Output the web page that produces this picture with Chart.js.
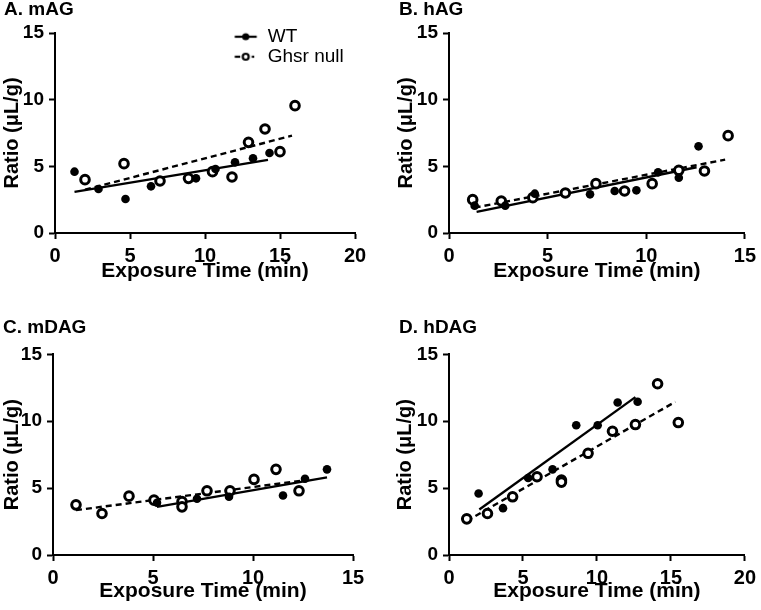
<!DOCTYPE html>
<html>
<head>
<meta charset="utf-8">
<script src="https://cdn.jsdelivr.net/npm/chart.js@4.4.1/dist/chart.umd.min.js"></script>
<style>
html,body{margin:0;padding:0;background:#fff;}
#wrap{position:relative;width:761px;height:610px;overflow:hidden;background:#fff;}
canvas{position:absolute;}
</style>
</head>
<body>
<div id="wrap">
<canvas id="cA" width="380" height="295" style="left:0;top:0"></canvas>
<canvas id="cB" width="381" height="295" style="left:380px;top:0"></canvas>
<canvas id="cC" width="380" height="310" style="left:0;top:300px"></canvas>
<canvas id="cD" width="381" height="310" style="left:380px;top:300px"></canvas>
</div>
<script>
// ---------- labels ----------
const seriesNames = ['WT', 'Ghsr null'];
const panelTitles = ['A. mAG', 'B. hAG', 'C. mDAG', 'D. hDAG'];
const xAxisTitle = 'Exposure Time (min)';
const yAxisTitle = 'Ratio (\u03bcL/g)';
const yTickValues = [0, 5, 10, 15];
const xTicks20 = [0, 5, 10, 15, 20];
const xTicks15 = [0, 5, 10, 15];

// ---------- A. mAG ----------
const wtA_x = [1.3, 2.9, 4.7, 6.4, 9.4, 10.7, 12.0, 13.2, 14.3];
const wtA_y = [4.6, 3.3, 2.55, 3.5, 4.1, 4.8, 5.3, 5.6, 6.0];
const ghA_x = [2.0, 4.6, 7.0, 8.9, 10.5, 11.8, 12.9, 14.0, 15.0, 16.0];
const ghA_y = [4.0, 5.2, 3.9, 4.1, 4.6, 4.2, 6.8, 7.8, 6.1, 9.55];
const wtFitA_x = [1.3, 14.2];
const wtFitA_y = [3.08, 5.48];
const ghFitA_x = [2.0, 15.8];
const ghFitA_y = [3.25, 7.3];

// ---------- B. hAG ----------
const wtB_x = [1.3, 2.85, 4.35, 7.15, 8.4, 9.5, 10.6, 11.65, 12.65];
const wtB_y = [2.05, 2.05, 2.95, 2.9, 3.15, 3.2, 4.55, 4.15, 6.5];
const ghB_x = [1.2, 2.65, 4.25, 5.9, 7.45, 8.9, 10.3, 11.65, 12.95, 14.15];
const ghB_y = [2.5, 2.4, 2.65, 3.0, 3.7, 3.15, 3.7, 4.7, 4.65, 7.3];
const wtFitB_x = [1.4, 12.55];
const wtFitB_y = [1.58, 4.93];
const ghFitB_x = [1.3, 14.0];
const ghFitB_y = [1.9, 5.5];

// ---------- C. mDAG ----------
const wtC_x = [5.2, 7.2, 8.8, 11.5, 12.6, 13.7];
const wtC_y = [3.9, 4.2, 4.35, 4.45, 5.7, 6.4];
const ghC_x = [1.15, 2.45, 3.8, 5.05, 6.45, 6.45, 7.7, 8.85, 10.05, 11.15, 12.3];
const ghC_y = [3.75, 3.1, 4.4, 4.1, 4.0, 3.6, 4.8, 4.8, 5.65, 6.4, 4.8];
const wtFitC_x = [5.2, 13.7];
const wtFitC_y = [3.6, 5.8];
const ghFitC_x = [1.15, 12.65];
const ghFitC_y = [3.35, 5.6];

// ---------- D. hDAG ----------
const wtD_x = [2.0, 3.65, 5.35, 7.0, 8.6, 10.05, 11.4, 12.75];
const wtD_y = [4.6, 3.5, 5.75, 6.4, 9.7, 9.7, 11.4, 11.45];
const ghD_x = [1.2, 2.6, 4.3, 5.95, 7.6, 7.6, 9.4, 11.05, 12.6, 14.1, 15.5];
const ghD_y = [2.7, 3.1, 4.35, 5.85, 5.6, 5.45, 7.6, 9.25, 9.75, 12.8, 9.9];
const wtFitD_x = [2.05, 12.6];
const wtFitD_y = [3.4, 11.8];
const ghFitD_x = [1.2, 15.3];
const ghFitD_y = [2.55, 11.45];

// ---------- helpers ----------
const FAMILY = "'Liberation Sans', Arial, Helvetica, sans-serif";
Chart.defaults.font.family = FAMILY;
Chart.defaults.color = '#000';

function pts(xs, ys) { return xs.map((x, i) => ({x: x, y: ys[i]})); }

function makeSymbol(dashed) {
  const c = document.createElement('canvas');
  c.width = 25; c.height = 12;
  const g = c.getContext('2d');
  g.strokeStyle = '#000'; g.fillStyle = '#000'; g.lineWidth = 2.2;
  if (!dashed) {
    g.beginPath(); g.moveTo(1.5, 6); g.lineTo(23.5, 6); g.stroke();
    g.beginPath(); g.arc(12.5, 6, 3.6, 0, Math.PI * 2); g.fill();
  } else {
    g.beginPath(); g.moveTo(1.5, 6); g.lineTo(7, 6); g.stroke();
    g.beginPath(); g.moveTo(18.5, 6); g.lineTo(21, 6); g.stroke();
    g.beginPath(); g.arc(12.5, 6, 3.0, 0, Math.PI * 2);
    g.fillStyle = '#fff'; g.fill(); g.stroke();
  }
  return c;
}
const symbols = [makeSymbol(false), makeSymbol(true)];

const legendPlace = {
  id: 'legendPlace',
  afterLayout(chart, args, opts) {
    const lg = chart.legend;
    if (!lg || !opts || !opts.enabled) return;
    const pad = chart.options.plugins.legend.labels.padding;
    lg.left = opts.x - pad; lg.top = opts.y - pad;
    lg.width = opts.w; lg.height = opts.h;
    lg.right = lg.left + opts.w; lg.bottom = lg.top + opts.h;
  }
};

function makePanel(id, p) {
  const xt = p.xTicks;
  new Chart(document.getElementById(id), {
    type: 'scatter',
    data: {
      datasets: [
        { label: seriesNames[0], data: pts(p.wt[0], p.wt[1]), showLine: false, order: 0,
          pointRadius: 4.3, pointHoverRadius: 4.3, pointBackgroundColor: '#000', pointBorderColor: '#000', pointBorderWidth: 0 },
        { label: seriesNames[1], data: pts(p.gh[0], p.gh[1]), showLine: false, order: 0,
          pointRadius: 4.3, pointHoverRadius: 4.3, pointBackgroundColor: '#fff', pointBorderColor: '#000', pointBorderWidth: 3 },
        { label: seriesNames[0] + ' fit', data: pts(p.wtFit[0], p.wtFit[1]), showLine: true, order: 1,
          borderColor: '#000', borderWidth: 2.4, pointRadius: 0, pointHoverRadius: 0, fill: false },
        { label: seriesNames[1] + ' fit', data: pts(p.ghFit[0], p.ghFit[1]), showLine: true, order: 1,
          borderColor: '#000', borderWidth: 2.4, borderDash: [6, 4], pointRadius: 0, pointHoverRadius: 0, fill: false }
      ]
    },
    options: {
      responsive: false,
      animation: false,
      devicePixelRatio: 1,
      layout: { padding: { left: p.pl, right: p.pr, top: 0, bottom: 0 } },
      plugins: {
        tooltip: { enabled: false },
        title: {
          display: true, text: p.title, align: 'start', color: '#000',
          font: { family: FAMILY, size: 19, weight: 'bold' },
          padding: p.titlePad
        },
        legend: p.legend ? {
          display: true, position: 'chartArea', align: 'start',
          labels: {
            usePointStyle: true, pointStyleWidth: 25, padding: 1, color: '#000',
            font: { family: FAMILY, size: 19, weight: 'normal' },
            generateLabels: () => seriesNames.map((t, i) => ({
              text: t, pointStyle: symbols[i], fillStyle: '#000', strokeStyle: '#000',
              fontColor: '#000', lineWidth: 0, hidden: false, datasetIndex: i
            }))
          }
        } : { display: false },
        legendPlace: p.legend ? { enabled: true, x: 233.2, y: 27.2, w: 150, h: 60 } : { enabled: false }
      },
      scales: {
        x: {
          type: 'linear', position: 'bottom',
          min: xt[0], max: xt[xt.length - 1],
          afterFit: (s) => { s.height = p.xh; },
          ticks: { stepSize: xt[1] - xt[0], padding: 5, color: '#000', font: { family: FAMILY, size: 20, weight: 'bold' } },
          grid: { display: true, drawOnChartArea: false, drawTicks: true, tickLength: 6, tickWidth: 2, tickColor: '#000', color: '#000' },
          border: { display: true, color: '#000', width: 2 },
          title: { display: true, text: xAxisTitle, color: '#000', font: { family: FAMILY, size: 21, weight: 'bold' },
                   padding: { top: 0, bottom: p.xtb } }
        },
        y: {
          type: 'linear', position: 'left',
          min: yTickValues[0], max: yTickValues[yTickValues.length - 1],
          afterFit: (s) => { s.width = p.yw; },
          ticks: { stepSize: yTickValues[1] - yTickValues[0], padding: 5, color: '#000', font: { family: FAMILY, size: 19, weight: 'bold' } },
          grid: { display: true, drawOnChartArea: false, drawTicks: true, tickLength: 6, tickWidth: 2, tickColor: '#000', color: '#000' },
          border: { display: true, color: '#000', width: 2 },
          title: { display: true, text: yAxisTitle, color: '#000', font: { family: FAMILY, size: 20, weight: 'bold' },
                   padding: { top: p.ytt, bottom: 0 } }
        }
      }
    },
    plugins: [legendPlace]
  });
}

const topTitlePad = { top: -2.0, bottom: 12.2 };
const botTitlePad = { top: 16.6, bottom: 14.9 };

makePanel('cA', { title: panelTitles[0], xTicks: xTicks20, wt: [wtA_x, wtA_y], gh: [ghA_x, ghA_y],
  wtFit: [wtFitA_x, wtFitA_y], ghFit: [ghFitA_x, ghFitA_y], legend: true,
  pl: 4, pr: 25, yw: 51, ytt: -3.2, xh: 62, xtb: 10.9, titlePad: topTitlePad });
makePanel('cB', { title: panelTitles[1], xTicks: xTicks15, wt: [wtB_x, wtB_y], gh: [ghB_x, ghB_y],
  wtFit: [wtFitB_x, wtFitB_y], ghFit: [ghFitB_x, ghFitB_y], legend: false,
  pl: 19, pr: 12, yw: 50, ytt: -5, xh: 62, xtb: 10.9, titlePad: topTitlePad });
makePanel('cC', { title: panelTitles[2], xTicks: xTicks15, wt: [wtC_x, wtC_y], gh: [ghC_x, ghC_y],
  wtFit: [wtFitC_x, wtFitC_y], ghFit: [ghFitC_x, ghFitC_y], legend: false,
  pl: 3, pr: 27, yw: 50, ytt: -2.3, xh: 55, xtb: 5.9, titlePad: botTitlePad });
makePanel('cD', { title: panelTitles[3], xTicks: xTicks20, wt: [wtD_x, wtD_y], gh: [ghD_x, ghD_y],
  wtFit: [wtFitD_x, wtFitD_y], ghFit: [ghFitD_x, ghFitD_y], legend: false,
  pl: 19, pr: 12, yw: 50, ytt: -6, xh: 55, xtb: 5.9, titlePad: botTitlePad });
</script>
</body>
</html>
